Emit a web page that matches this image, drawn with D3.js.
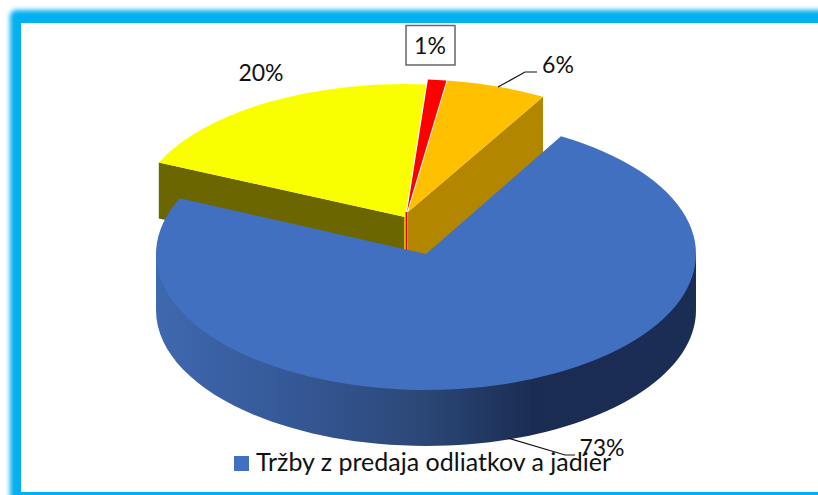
<!DOCTYPE html>
<html>
<head>
<meta charset="utf-8">
<script src="https://cdn.jsdelivr.net/npm/d3@7"></script>
<style>
  html, body { margin: 0; padding: 0; background: #fff; overflow: hidden; }
  text { font-family: Lato, "Open Sans", sans-serif; fill: #111; }
</style>
</head>
<body>
<div id="chart"></div>
<script>
var width  = 818;
var height = 495;

// ------------- data -----------------
const categories = ["blue", "yellow", "red", "orange"];
const values     = [73.4, 19.5, 1.1, 6.0];
const labels     = ["73%", "20%", "1%", "6%"];
const legendText = "Tržby z predaja odliatkov a jadier";

// ------------- layout -----------------
const rx = 270, depth = 56;
const startDeg = 30;

// exploded slice apex on the top face, the back slices sit on a flatter ellipse
var apex = {
  blue:   [426, 254],
  yellow: [405, 217],
  red:    [407, 212],
  orange: [408, 212]
};
var radiusY = {blue: 136, yellow: 133, red: 133, orange: 133};
var topColor  = {blue: "#4170c0", yellow: "#faff00", red: "#ff0000", orange: "#ffc000"};
var wallColor = {yellow: "#6b6600", red: "#e00000", orange: "#b38600"};

var svg = d3.select("#chart").append("svg")
    .attr("width", width)
    .attr("height", height);

var defs = svg.append("defs");
defs.append("filter")
    .attr("id", "glow")
    .attr("x", "-5%").attr("y", "-5%")
    .attr("width", "110%").attr("height", "110%")
  .append("feGaussianBlur")
    .attr("stdDeviation", 2.8);

var wallGrad = defs.append("linearGradient")
    .attr("id", "wallGrad")
    .attr("gradientUnits", "userSpaceOnUse")
    .attr("x1", 156).attr("x2", 696)
    .attr("y1", 0).attr("y2", 0);
wallGrad.append("stop").attr("offset", "0%").attr("stop-color", "#3f68ae");
wallGrad.append("stop").attr("offset", "22%").attr("stop-color", "#365a9a");
wallGrad.append("stop").attr("offset", "50%").attr("stop-color", "#2b4776");
wallGrad.append("stop").attr("offset", "70%").attr("stop-color", "#1a2c52");
wallGrad.append("stop").attr("offset", "100%").attr("stop-color", "#1a2d54");

// ------------- frame -----------------
svg.append("rect")
    .attr("x", 10).attr("y", 10)
    .attr("rx", 6).attr("ry", 6)
    .attr("width", 860).attr("height", 540)
    .attr("fill", "#00b0f0")
    .attr("filter", "url(#glow)");

svg.append("rect")
    .attr("x", 21).attr("y", 23)
    .attr("width", 830).attr("height", 469)
    .attr("fill", "#fff");

// ------------- pie -----------------
var pie = d3.pie()
    .sort(null)
    .startAngle(startDeg * Math.PI / 180)
    .endAngle((startDeg + 360) * Math.PI / 180);

var arc = d3.arc().innerRadius(0).outerRadius(rx);

var slices = pie(values).map(function(d, i) {
  d.name = categories[i];
  return d;
});
var sliceByName = {};
slices.forEach(function(d) { sliceByName[d.name] = d; });

function rimPoint(name, angle) {
  return [apex[name][0] + rx * Math.sin(angle), apex[name][1] - radiusY[name] * Math.cos(angle)];
}

// flat wall running from the apex out to the rim
function sideWall(name, angle, wallDepth) {
  var a = apex[name], p = rimPoint(name, angle);
  var pts = [a, p, [p[0], p[1] + wallDepth], [a[0], a[1] + wallDepth]];
  svg.append("path")
      .attr("d", d3.line()(pts) + "Z")
      .attr("fill", wallColor[name]);
}

function topFace(name) {
  svg.append("path")
      .attr("d", arc(sliceByName[name]))
      .attr("transform", "translate(" + apex[name] + ") scale(1," + radiusY[name] / rx + ")")
      .attr("fill", topColor[name]);
}

// back slices walls first, orange runs a bit deeper so it tucks under the blue edge
sideWall("yellow", sliceByName.yellow.startAngle, depth);
sideWall("orange", sliceByName.orange.endAngle - 2 * Math.PI, depth + 4);

["yellow", "orange", "red"].forEach(topFace);

// thin slivers where the red slice shows between yellow and orange
svg.append("line")
    .attr("x1", 404.6).attr("x2", 404.6)
    .attr("y1", 217).attr("y2", 250)
    .attr("stroke", "#d8c000").attr("stroke-width", 1);
svg.append("line")
    .attr("x1", 406.5).attr("x2", 406.5)
    .attr("y1", 212).attr("y2", 250)
    .attr("stroke", wallColor.red).attr("stroke-width", 2);

// blue slice, outer wall then top face
var bx = apex.blue[0], by = apex.blue[1], bry = radiusY.blue;
var wall = d3.path();
wall.moveTo(bx - rx, by);
wall.lineTo(bx - rx, by + depth);
wall.bezierCurveTo(bx - rx, by + depth + bry * 0.5523, bx - rx * 0.5523, by + depth + bry, bx, by + depth + bry);
wall.bezierCurveTo(bx + rx * 0.5523, by + depth + bry, bx + rx, by + depth + bry * 0.5523, bx + rx, by + depth);
wall.lineTo(bx + rx, by);
wall.closePath();
svg.append("path")
    .attr("d", wall.toString())
    .attr("fill", "url(#wallGrad)");

topFace("blue");

// ------------- leader lines and labels -----------------
var leaders = [
  [[498, 87], [525, 72], [537, 72]],
  [[508, 438], [565, 455], [575, 455]]
];
svg.selectAll("path.leader")
    .data(leaders)
    .enter()
  .append("path")
    .attr("class", "leader")
    .attr("d", d3.line())
    .attr("fill", "none")
    .attr("stroke", "#111")
    .attr("stroke-width", 1.2);

svg.append("rect")
    .attr("x", 406).attr("y", 25.5)
    .attr("width", 49).attr("height", 39.5)
    .attr("fill", "#fff")
    .attr("stroke", "#666")
    .attr("stroke-width", 1.5);

var labelPos = [[602, 456], [261, 81], [430, 54], [558, 73]];
svg.selectAll("text.pct")
    .data(labels)
    .enter()
  .append("text")
    .attr("class", "pct")
    .attr("x", function(d, i) { return labelPos[i][0]; })
    .attr("y", function(d, i) { return labelPos[i][1]; })
    .attr("text-anchor", "middle")
    .style("font-size", "23px")
    .text(function(d) { return d; });

// ------------- legend -----------------
svg.append("rect")
    .attr("x", 234).attr("y", 456)
    .attr("width", 15).attr("height", 15)
    .attr("fill", topColor.blue);

svg.append("text")
    .attr("x", 256).attr("y", 471)
    .style("font-size", "25px")
    .attr("textLength", 355)
    .attr("lengthAdjust", "spacingAndGlyphs")
    .text(legendText);
</script>
</body>
</html>
